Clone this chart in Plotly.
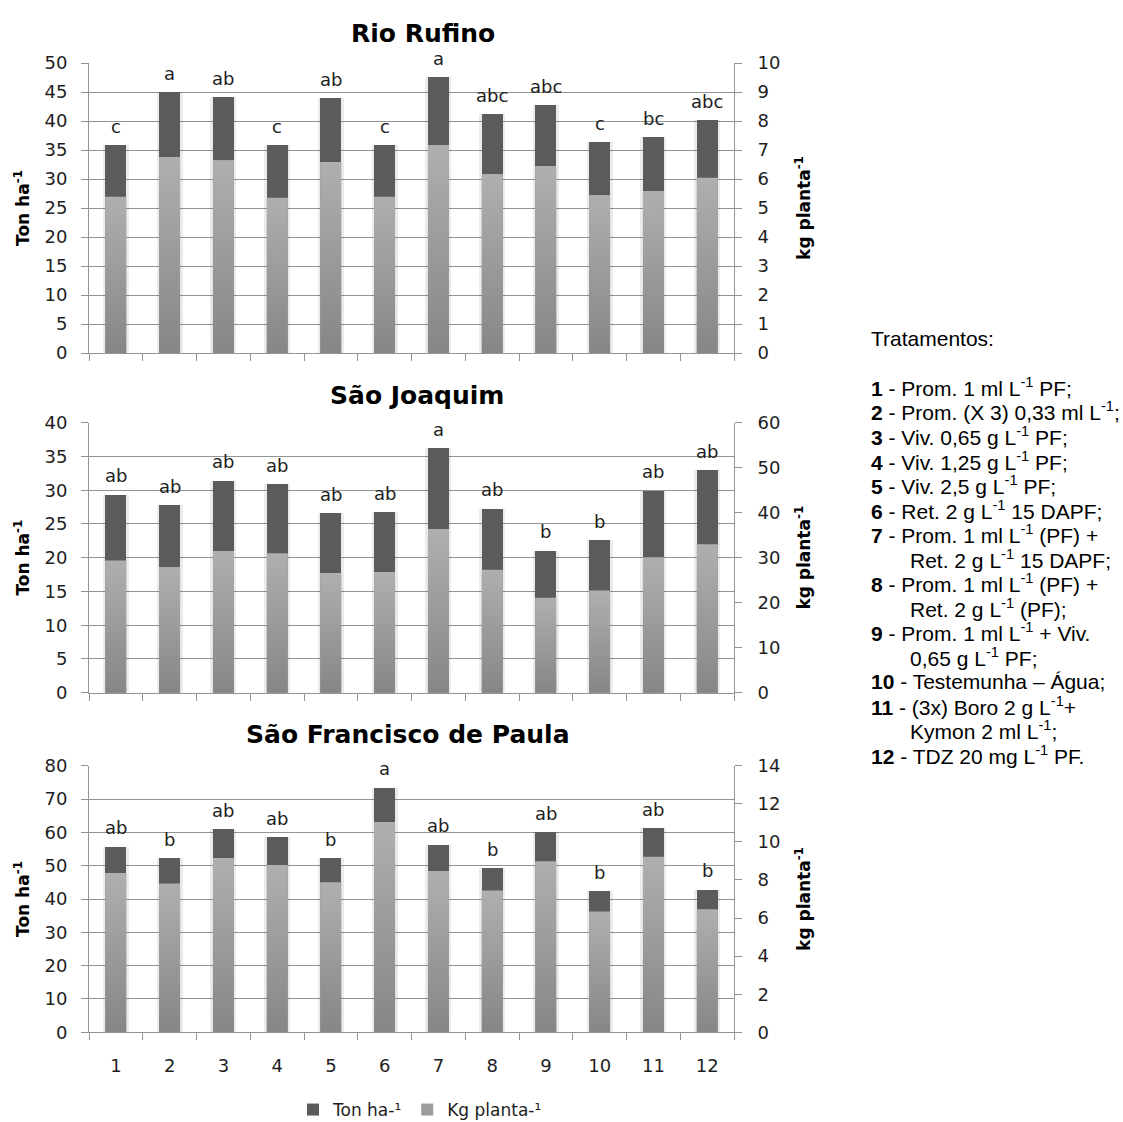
import plotly.graph_objects as go
from plotly.subplots import make_subplots

# ---- data -----------------------------------------------------------------
treatments = list(range(1, 13))
tick_labels = [str(t) for t in treatments]

rr_ton = [35.8, 45.0, 44.2, 35.8, 44.0, 35.8, 47.6, 41.2, 42.8, 36.4, 37.3, 40.2]
rr_kg = [5.39, 6.76, 6.64, 5.35, 6.59, 5.39, 7.17, 6.16, 6.44, 5.44, 5.59, 6.04]
rr_letters = ["c", "a", "ab", "c", "ab", "c", "a", "abc", "abc", "c", "bc", "abc"]

sj_ton = [29.4, 27.85, 31.45, 30.95, 26.6, 26.75, 36.25, 27.3, 21.1, 22.65, 30.0, 33.0]
sj_kg = [29.4, 27.9, 31.5, 31.0, 26.6, 26.8, 36.4, 27.3, 21.1, 22.7, 30.1, 33.0]
sj_letters = ["ab", "ab", "ab", "ab", "ab", "ab", "a", "ab", "b", "b", "ab", "ab"]

sfp_ton = [55.8, 52.3, 61.0, 58.6, 52.3, 73.5, 56.4, 49.4, 60.1, 42.5, 61.3, 42.9]
sfp_kg = [8.37, 7.82, 9.15, 8.79, 7.88, 11.04, 8.47, 7.44, 8.98, 6.35, 9.22, 6.46]
sfp_letters = ["ab", "b", "ab", "ab", "b", "a", "ab", "b", "ab", "b", "ab", "b"]

treatment_notes = [
    ("Tratamentos:", 0),
    ("", 0),
    ("<b>1</b> - Prom. 1 ml L<sup>-1</sup> PF;", 0),
    ("<b>2</b> - Prom. (X 3) 0,33 ml L<sup>-1</sup>;", 0),
    ("<b>3</b> - Viv. 0,65 g L<sup>-1</sup> PF;", 0),
    ("<b>4</b> - Viv. 1,25 g L<sup>-1</sup> PF;", 0),
    ("<b>5</b> - Viv. 2,5 g L<sup>-1</sup> PF;", 0),
    ("<b>6</b> - Ret. 2 g L<sup>-1</sup> 15 DAPF;", 0),
    ("<b>7</b> - Prom. 1 ml L<sup>-1</sup> (PF) +", 0),
    ("Ret. 2 g L<sup>-1</sup> 15 DAPF;", 1),
    ("<b>8</b> - Prom. 1 ml L<sup>-1</sup> (PF) +", 0),
    ("Ret. 2 g L<sup>-1</sup> (PF);", 1),
    ("<b>9</b> - Prom. 1 ml L<sup>-1</sup> + Viv.", 0),
    ("0,65 g L<sup>-1</sup> PF;", 1),
    ("<b>10</b> - Testemunha – Água;", 0),
    ("<b>11</b> - (3x) Boro 2 g L<sup>-1</sup>+", 0),
    ("Kymon 2 ml L<sup>-1</sup>;", 1),
    ("<b>12</b> - TDZ 20 mg L<sup>-1</sup> PF.", 0),
]

panels = [
    dict(title="Rio Rufino", ton=rr_ton, kg=rr_kg, letters=rr_letters,
         left=(50, 5), right=(10, 1)),
    dict(title="São Joaquim", ton=sj_ton, kg=sj_kg, letters=sj_letters,
         left=(40, 5), right=(60, 10)),
    dict(title="São Francisco de Paula", ton=sfp_ton, kg=sfp_kg, letters=sfp_letters,
         left=(80, 10), right=(14, 2)),
]

# ---- layout geometry (pixels) ---------------------------------------------
W, H = 1123, 1122
FONT = "DejaVu Sans"
DARK = "#5b5b5b"
LIGHT_MID = "#9d9d9d"
GRID = "#949494"
TEXT = "#1e1e1e"
BAR_W = 0.39


def fx(px):
    return px / W


def fy(py):
    return 1 - py / H


plot_x = (89, 734)
plot_y = [(353, 63), (692.7, 422.7), (1032.3, 765.7)]
title_pos = [(423, 33), (417, 395), (408, 734)]

fig = make_subplots(rows=3, cols=1, specs=[[{"secondary_y": True}]] * 3)

annotations = []
for i, p in enumerate(panels):
    row = i + 1
    first = i == 0
    # faint soft edge around each column
    fig.add_trace(
        go.Bar(x=treatments, y=p["ton"], marker_color="rgba(0,0,0,0.08)",
               marker_line_width=0, width=BAR_W + 0.09, showlegend=False,
               hoverinfo="skip"),
        row=row, col=1, secondary_y=False,
    )
    fig.add_trace(
        go.Bar(x=treatments, y=p["ton"], name="Ton ha-¹", marker_color=DARK,
               marker_line_width=0, width=BAR_W, showlegend=first,
               legendgroup="ton"),
        row=row, col=1, secondary_y=False,
    )
    fig.add_trace(
        go.Bar(x=treatments, y=p["kg"], name="Kg planta-¹", marker_color=LIGHT_MID,
               marker_line_width=0, width=BAR_W, showlegend=first,
               legendgroup="kg"),
        row=row, col=1, secondary_y=True,
    )
    # vertical shading of the Kg planta-1 bars (dark at the base, light at the top)
    hw = BAR_W / 2
    for t, v in zip(treatments, p["kg"]):
        fig.add_trace(
            go.Scatter(
                x=[t - hw, t + hw, t + hw, t - hw, t - hw],
                y=[0, 0, v, v, 0],
                mode="lines", line=dict(width=0), fill="toself",
                fillgradient=dict(type="vertical", start=0, stop=v,
                                  colorscale=[[0, "#868686"], [1, "#afafaf"]]),
                showlegend=False, hoverinfo="skip",
            ),
            row=row, col=1, secondary_y=True,
        )

    # significance letters above each bar
    xa = "x" if row == 1 else f"x{row}"
    ya = "y" if row == 1 else f"y{2 * row - 1}"
    for t, v, lab in zip(treatments, p["ton"], p["letters"]):
        annotations.append(dict(
            x=t, y=v, xref=xa, yref=ya, text=lab, showarrow=False,
            yanchor="bottom", yshift=6, font=dict(family=FONT, size=18, color=TEXT),
        ))

    # panel title
    tx, ty = title_pos[i]
    annotations.append(dict(
        x=fx(tx), y=fy(ty), xref="paper", yref="paper", text=f"<b>{p['title']}</b>",
        showarrow=False, xanchor="center", yanchor="middle",
        font=dict(family=FONT, size=25, color="#000000"),
    ))

    ytop, ybot = plot_y[i][1], plot_y[i][0]
    last = row == 3
    fig.update_xaxes(
        row=row, col=1,
        domain=[fx(plot_x[0]), fx(plot_x[1])],
        range=[0.5, 12.5], automargin=False,
        tickmode="array", tickvals=treatments, ticktext=tick_labels,
        showticklabels=last, ticks="",
        ticklabelstandoff=17,
        minor=dict(tick0=0.5, dtick=1, ticks="outside", ticklen=7,
                   tickcolor=GRID, tickwidth=1, showgrid=False),
        showline=True, linecolor=GRID, linewidth=1,
        showgrid=False, zeroline=False,
        tickfont=dict(family=FONT, size=18, color=TEXT),
    )
    lmax, ldt = p["left"]
    fig.update_yaxes(
        row=row, col=1, secondary_y=False,
        domain=[fy(ybot), fy(ytop)],
        range=[0, lmax], dtick=ldt, tick0=0, automargin=False,
        ticks="outside", ticklen=7, tickcolor=GRID,
        ticklabelstandoff=10,
        showline=True, linecolor=GRID, linewidth=1,
        showgrid=True, gridcolor=GRID, gridwidth=1, zeroline=False,
        tickfont=dict(family=FONT, size=18, color=TEXT),
        title=dict(text="<b>Ton ha<sup>-1</sup></b>", standoff=10,
                   font=dict(family=FONT, size=17, color="#000000")),
    )
    rmax, rdt = p["right"]
    fig.update_yaxes(
        row=row, col=1, secondary_y=True,
        range=[0, rmax], dtick=rdt, tick0=0, automargin=False,
        ticks="outside", ticklen=7, tickcolor=GRID,
        ticklabelstandoff=12,
        showline=True, linecolor=GRID, linewidth=1,
        showgrid=False, zeroline=False,
        tickfont=dict(family=FONT, size=18, color=TEXT),
        title=dict(text="<b>kg planta<sup>-1</sup></b>", standoff=18,
                   font=dict(family=FONT, size=17, color="#000000")),
    )

# treatment key on the right-hand side
LINE_H = 24.5
for k, (txt, indent) in enumerate(treatment_notes):
    if not txt:
        continue
    annotations.append(dict(
        x=fx(908 if indent else 869), y=fy(338 + k * LINE_H),
        xref="paper", yref="paper", text=txt, showarrow=False,
        xanchor="left", yanchor="middle", align="left",
        font=dict(family="Liberation Sans", size=21, color="#000000"),
    ))

fig.update_layout(
    width=W, height=H,
    margin=dict(l=0, r=0, t=0, b=0, autoexpand=False),
    paper_bgcolor="white", plot_bgcolor="white",
    barmode="overlay", bargap=0,
    font=dict(family=FONT, color=TEXT),
    annotations=annotations,
    legend=dict(orientation="h", x=fx(420), xanchor="center",
                y=fy(1110), yanchor="middle",
                font=dict(family=FONT, size=17, color=TEXT),
                traceorder="normal", itemwidth=30),
)

fig.write_html("out.html")
